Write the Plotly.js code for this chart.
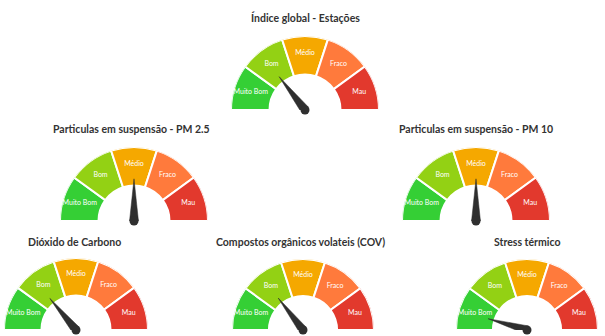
<!DOCTYPE html>
<html><head><meta charset="utf-8">
<script src="https://cdn.plot.ly/plotly-3.0.1.min.js"></script>
<style>html,body{margin:0;padding:0;background:#fff}#chart{width:605px;height:336px}</style>
</head><body><div id="chart"></div>
<script>
// ---- data ----
const gaugeTitles = [
  'Índice global - Estações',
  'Particulas em suspensão - PM 2.5',
  'Particulas em suspensão - PM 10',
  'Dióxido de Carbono',
  'Compostos orgânicos volateis (COV)',
  'Stress térmico'
];
const gaugeValues = [29, 50, 50, 28, 29, 9];
const bandLabels = ['Muito Bom', 'Bom', 'Médio', 'Fraco', 'Mau'];
const bandColors = ['#35cf35', '#93d114', '#f5a800', '#ff7a3c', '#e2392d'];
const valueMax = 100;

// ---- layout geometry (pixels) ----
const W = 605, H = 336;
const gaugeBoxes = [
  {cx: 305, cy: 110, R: 74, tx: 305, ty: 17},
  {cx: 134, cy: 221, R: 74, tx: 131, ty: 129},
  {cx: 476, cy: 221, R: 74, tx: 476, ty: 129},
  {cx: 76,  cy: 330, R: 72, tx: 74,  ty: 242},
  {cx: 303, cy: 330, R: 71, tx: 300, ty: 242},
  {cx: 527, cy: 330, R: 71, tx: 527, ty: 242}
];

const nBands = bandLabels.length;
const bandW = 180 / nBands;
const mids = bandLabels.map((_, i) => bandW * (i + 0.5));
const needleColor = '#2f2f2f';

const traces = [];
const layout = {
  width: W, height: H,
  margin: {l: 0, r: 0, t: 0, b: 0},
  paper_bgcolor: '#fff',
  showlegend: false,
  annotations: []
};

gaugeBoxes.forEach((g, i) => {
  const pname = 'polar' + (i === 0 ? '' : (i + 1));
  layout[pname] = {
    domain: {
      x: [(g.cx - g.R) / W, (g.cx + g.R) / W],
      y: [(H - g.cy) / H, (H - g.cy + g.R) / H]
    },
    sector: [0, 180],
    bgcolor: 'rgba(0,0,0,0)',
    radialaxis: {visible: false, range: [0, 1]},
    angularaxis: {visible: false, rotation: 180, direction: 'clockwise'}
  };
  traces.push({
    type: 'barpolar', subplot: pname,
    r: bandLabels.map(() => 0.52), base: 0.48,
    theta: mids, width: bandLabels.map(() => bandW),
    marker: {color: bandColors, line: {color: '#fff', width: 2}},
    hoverinfo: 'skip'
  });
  traces.push({
    type: 'scatterpolar', subplot: pname, mode: 'text',
    r: bandLabels.map(() => 0.77), theta: mids, text: bandLabels,
    textfont: {family: 'Lato, sans-serif', size: 7, color: '#fff'},
    cliponaxis: false, hoverinfo: 'skip'
  });
  const a = gaugeValues[i] / valueMax * 180;
  traces.push({
    type: 'scatterpolar', subplot: pname, mode: 'lines',
    r: [0.06, 0.57, 0.06, 0.06], theta: [a - 90, a, a + 90, a - 90],
    fill: 'toself', fillcolor: needleColor,
    line: {color: needleColor, width: 0.5},
    hoverinfo: 'skip'
  });
  traces.push({
    type: 'scatterpolar', subplot: pname, mode: 'markers',
    r: [0], theta: [a],
    marker: {size: 9, color: needleColor},
    cliponaxis: false, hoverinfo: 'skip'
  });
  layout.annotations.push({
    xref: 'paper', yref: 'paper',
    x: g.tx / W, y: 1 - g.ty / H,
    xanchor: 'center', yanchor: 'middle',
    text: gaugeTitles[i], showarrow: false,
    font: {family: 'Lato, sans-serif', size: 10.5, color: '#333', weight: 700}
  });
});

Plotly.newPlot('chart', traces, layout, {displayModeBar: false, staticPlot: true});
</script></body></html>
